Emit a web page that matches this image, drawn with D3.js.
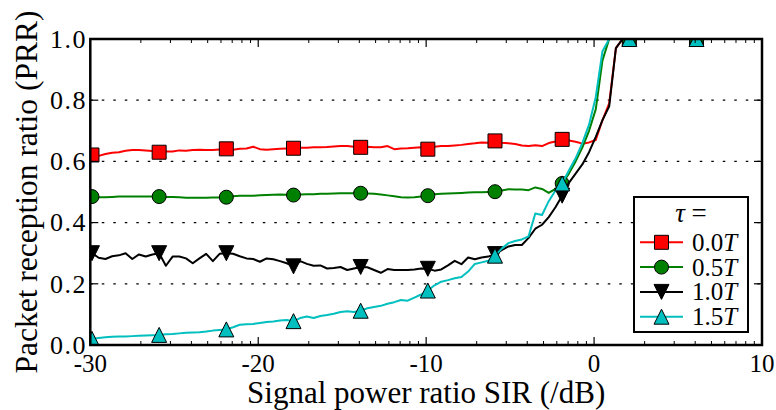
<!DOCTYPE html>
<html><head><meta charset="utf-8">
<script src="https://cdn.jsdelivr.net/npm/d3@7"></script>
<style>
body{margin:0;background:#fff}
svg{display:block}
text{font-family:"Liberation Serif","Times New Roman",serif;fill:#000}
</style>
</head><body><svg id="c" width="776" height="410"></svg>
<script>
// ---- data ----
const sirStart = -29.9, sirStep = 0.4;   // SIR sample grid (dB)
const prr00 = [
 0.621,0.618,0.624,0.628,0.630,0.635,0.637,0.637,0.636,0.634,
 0.630,0.632,0.632,0.636,0.635,0.637,0.638,0.637,0.637,0.639,
 0.641,0.638,0.641,0.642,0.648,0.640,0.638,0.640,0.641,0.642,
 0.643,0.645,0.645,0.646,0.646,0.647,0.649,0.650,0.650,0.648,
 0.646,0.648,0.646,0.646,0.650,0.640,0.642,0.643,0.645,0.646,
 0.640,0.648,0.650,0.650,0.652,0.654,0.657,0.659,0.662,0.661,
 0.667,0.661,0.659,0.657,0.652,0.650,0.653,0.650,0.660,0.665,
 0.672,0.668,0.664,0.658,0.662,0.670,0.735,0.790,0.970,1.000,
 1,1,1,1,1,1,1,1,1,1, 1,1,1,1,1,1,1,1,1,1];
const prr05 = [
 0.485,0.483,0.483,0.484,0.485,0.485,0.485,0.485,0.485,0.485,
 0.485,0.484,0.484,0.483,0.481,0.481,0.481,0.481,0.482,0.482,
 0.483,0.486,0.488,0.488,0.488,0.489,0.490,0.491,0.492,0.491,
 0.490,0.492,0.493,0.493,0.494,0.494,0.495,0.496,0.496,0.496,
 0.496,0.495,0.494,0.492,0.489,0.486,0.483,0.482,0.483,0.485,
 0.488,0.493,0.494,0.495,0.496,0.497,0.498,0.499,0.499,0.500,
 0.501,0.505,0.509,0.508,0.508,0.506,0.515,0.510,0.497,0.510,
 0.528,0.560,0.600,0.645,0.700,0.770,0.930,1.000,1.000,1.000,
 1,1,1,1,1,1,1,1,1,1, 1,1,1,1,1,1,1,1,1,1];
const prr10 = [
 0.300,0.285,0.281,0.290,0.293,0.300,0.281,0.296,0.289,0.296,
 0.300,0.259,0.289,0.289,0.283,0.267,0.283,0.298,0.274,0.298,
 0.300,0.298,0.290,0.283,0.281,0.272,0.283,0.280,0.274,0.267,
 0.257,0.274,0.265,0.259,0.260,0.250,0.252,0.255,0.245,0.250,
 0.255,0.254,0.245,0.236,0.248,0.245,0.245,0.245,0.247,0.250,
 0.249,0.243,0.247,0.260,0.275,0.264,0.286,0.280,0.286,0.289,
 0.297,0.310,0.322,0.327,0.327,0.350,0.380,0.393,0.418,0.450,
 0.488,0.530,0.560,0.590,0.630,0.680,0.735,0.780,0.970,1.000,
 1,1,1,1,1,1,1,1,1,1, 1,1,1,1,1,1,1,1,1,1];
const prr15 = [
 0.020,0.023,0.025,0.027,0.028,0.028,0.029,0.030,0.031,0.032,
 0.033,0.035,0.036,0.038,0.040,0.041,0.042,0.044,0.047,0.049,
 0.051,0.058,0.066,0.068,0.069,0.072,0.075,0.077,0.080,0.082,
 0.078,0.088,0.093,0.088,0.095,0.098,0.102,0.108,0.110,0.108,
 0.112,0.120,0.124,0.128,0.135,0.140,0.147,0.145,0.155,0.165,
 0.178,0.195,0.207,0.212,0.218,0.222,0.240,0.265,0.270,0.275,
 0.292,0.315,0.333,0.340,0.345,0.355,0.430,0.425,0.470,0.505,
 0.528,0.570,0.610,0.660,0.720,0.810,0.960,1.000,1.000,1.000,
 1,1,1,1,1,1,1,1,1,1, 1,1,1,1,1,1,1,1,1,1];
const seriesLabels = ["0.0", "0.5", "1.0", "1.5"];
const seriesColors = ["#ff0000", "#008000", "#000000", "#00bfbf"];
const seriesMarkers = ["square", "circle", "tridown", "triup"];
const xTicks = [-30, -20, -10, 0, 10];
const yTicks = [0.0, 0.2, 0.4, 0.6, 0.8, 1.0];
const yGrid = [0.2, 0.4, 0.6, 0.8];
const markEvery = 10;

// ---- layout ----
const svg = d3.select("#c");
const L = 90.3, R = 762, T = 39, B = 345;
const x = d3.scaleLinear().domain([-30, 10]).range([L, R]);
const y = d3.scaleLinear().domain([0, 1]).range([B, T]);

svg.append("defs").append("clipPath").attr("id", "clip")
  .append("rect").attr("x", L).attr("y", T).attr("width", R - L).attr("height", B - T);

// grid
svg.append("g").selectAll("line").data(yGrid).join("line")
  .attr("x1", L).attr("x2", R).attr("y1", d => y(d)).attr("y2", d => y(d))
  .attr("stroke", "#000").attr("stroke-width", 1.3).attr("stroke-dasharray", "2.5,9");

// marker paths
const ms = 15;
function markerPath(kind) {
  const h = ms / 2;
  if (kind === "square") return `M${-h+0.5},${-h+0.5}H${h-0.5}V${h-0.5}H${-h+0.5}Z`;
  if (kind === "circle") return d3.symbol(d3.symbolCircle, Math.PI * (h-0.5) * (h-0.5))();
  if (kind === "triup") return `M0,${-h}L${h},${h}L${-h},${h}Z`;
  return `M0,${h}L${h},${-h}L${-h},${-h}Z`;
}

const seriesData = [prr00, prr05, prr10, prr15];
const plot = svg.append("g").attr("clip-path", "url(#clip)");
const line = d3.line().x((d, i) => x(sirStart + sirStep * i)).y(d => y(d));
seriesData.forEach((vals, s) => {
  const g = plot.append("g");
  g.append("path").datum(vals).attr("d", line)
    .attr("fill", "none").attr("stroke", seriesColors[s]).attr("stroke-width", 2)
    .attr("stroke-linejoin", "round");
  const pts = vals.map((v, i) => ({v, i})).filter(d => d.i % markEvery === 0);
  g.selectAll("path.m").data(pts).join("path").attr("class", "m")
    .attr("transform", d => `translate(${x(sirStart + sirStep * d.i)},${y(d.v)})`)
    .attr("d", markerPath(seriesMarkers[s]))
    .attr("fill", seriesColors[s]).attr("stroke", "#000").attr("stroke-width", 1);
});

// ticks
const axes = svg.append("g").attr("stroke", "#000");
const minor = [];
xTicks.slice(0, -1).forEach(m => { for (let k = 2; k <= 9; k++) minor.push(m + 10 * Math.log10(k)); });
xTicks.forEach(v => {
  axes.append("line").attr("x1", x(v)).attr("x2", x(v)).attr("y1", B).attr("y2", B - 8).attr("stroke-width", 1.2);
  axes.append("line").attr("x1", x(v)).attr("x2", x(v)).attr("y1", T).attr("y2", T + 8).attr("stroke-width", 1.2);
});
minor.forEach(v => {
  axes.append("line").attr("x1", x(v)).attr("x2", x(v)).attr("y1", B).attr("y2", B - 4).attr("stroke-width", 1);
  axes.append("line").attr("x1", x(v)).attr("x2", x(v)).attr("y1", T).attr("y2", T + 4).attr("stroke-width", 1);
});
yTicks.forEach(v => {
  axes.append("line").attr("x1", L).attr("x2", L + 8).attr("y1", y(v)).attr("y2", y(v)).attr("stroke-width", 1.2);
  axes.append("line").attr("x1", R).attr("x2", R - 8).attr("y1", y(v)).attr("y2", y(v)).attr("stroke-width", 1.2);
});

// frame
svg.append("rect").attr("x", L).attr("y", T).attr("width", R - L).attr("height", B - T)
  .attr("fill", "none").attr("stroke", "#000").attr("stroke-width", 2.5);

// tick labels
svg.append("g").selectAll("text").data(xTicks).join("text")
  .attr("x", d => x(d)).attr("y", 372).attr("text-anchor", "middle")
  .attr("font-size", 25).text(d => d);
svg.append("g").selectAll("text").data(yTicks).join("text")
  .attr("x", 87).attr("y", d => y(d) + 8.8).attr("text-anchor", "end")
  .attr("font-size", 26).attr("letter-spacing", 1.5).text(d => d.toFixed(1));

// axis labels
svg.append("text").attr("x", (L + R) / 2).attr("y", 403).attr("text-anchor", "middle")
  .attr("font-size", 31).text("Signal power ratio SIR (/dB)");
svg.append("text").attr("transform", `translate(37,${(T + B) / 2}) rotate(-90)`)
  .attr("text-anchor", "middle").attr("font-size", 31.5).text("Packet reception ratio (PRR)");

// legend
const lg = svg.append("g");
lg.append("rect").attr("x", 634).attr("y", 197).attr("width", 114).attr("height", 135)
  .attr("fill", "#fff").attr("stroke", "#000").attr("stroke-width", 2);
const title = lg.append("text").attr("x", 691).attr("y", 222).attr("text-anchor", "middle").attr("font-size", 27);
title.append("tspan").attr("font-style", "italic").text("τ");
title.append("tspan").text(" =");
seriesLabels.forEach((lab, s) => {
  const cy = 242.3 + s * 24.8;
  lg.append("line").attr("x1", 640).attr("x2", 683).attr("y1", cy).attr("y2", cy)
    .attr("stroke", seriesColors[s]).attr("stroke-width", 2);
  lg.append("path").attr("transform", `translate(661.5,${cy})`).attr("d", markerPath(seriesMarkers[s]))
    .attr("fill", seriesColors[s]).attr("stroke", "#000").attr("stroke-width", 1);
  const t = lg.append("text").attr("x", 692).attr("y", cy + 8.5).attr("font-size", 25);
  t.append("tspan").text(lab);
  t.append("tspan").attr("font-style", "italic").text("T");
});
</script></body></html>
